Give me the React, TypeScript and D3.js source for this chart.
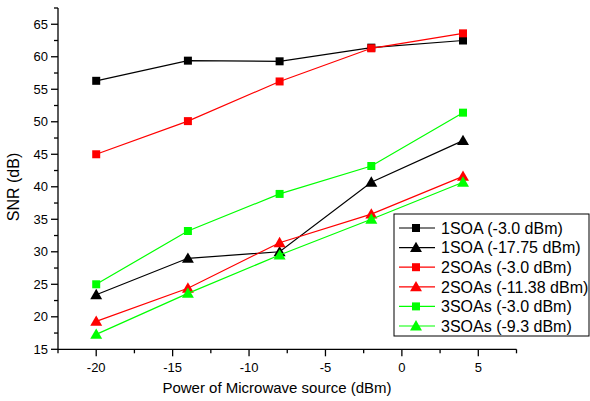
import React, { useEffect, useRef } from 'react';
import * as d3 from 'd3';

const xValues = [-20, -14, -8, -2, 4];
const soa1High = [56.3, 59.4, 59.3, 61.4, 62.5];
const soa1Low = [23.4, 29.0, 30.0, 40.7, 47.1];
const soa2High = [45.0, 50.1, 56.2, 61.3, 63.6];
const soa2Low = [19.3, 24.4, 31.4, 35.8, 41.6];
const soa3High = [25.0, 33.2, 38.9, 43.2, 51.4];
const soa3Low = [17.3, 23.6, 29.5, 35.0, 40.7];
const seriesNames = [
  '1SOA (-3.0 dBm)',
  '1SOA (-17.75 dBm)',
  '2SOAs (-3.0 dBm)',
  '2SOAs (-11.38 dBm)',
  '3SOAs (-3.0 dBm)',
  '3SOAs (-9.3 dBm)',
];
const xTicks = [-20, -15, -10, -5, 0, 5];
const yTicks = [15, 20, 25, 30, 35, 40, 45, 50, 55, 60, 65];

const App = () => {
  const ref = useRef<SVGSVGElement>(null);

  useEffect(() => {
    const width = 590;
    const height = 401;
    const svg = d3.select(ref.current);
    svg.selectAll('*').remove();

    const left = 58;
    const right = 516.5;
    const top = 8;
    const bottom = 349.3;

    const x = d3.scaleLinear().domain([-22.5, 7.5]).range([left, right]);
    const y = d3.scaleLinear().domain([15, 67.5]).range([bottom, top]);

    const font = 'Liberation Sans, Arial, sans-serif';

    const series = [
      { name: seriesNames[0], values: soa1High, color: '#000000', marker: 'square' },
      { name: seriesNames[1], values: soa1Low, color: '#000000', marker: 'triangle' },
      { name: seriesNames[2], values: soa2High, color: '#ff0000', marker: 'square' },
      { name: seriesNames[3], values: soa2Low, color: '#ff0000', marker: 'triangle' },
      { name: seriesNames[4], values: soa3High, color: '#00ff00', marker: 'square' },
      { name: seriesNames[5], values: soa3Low, color: '#00ff00', marker: 'triangle' },
    ];

    const sq = d3.symbol().type(d3.symbolSquare).size(64);
    const tri = d3.symbol().type(d3.symbolTriangle).size(62);

    const line = d3.line<number>()
      .x((d, i) => x(xValues[i]))
      .y(d => y(d));

    series.forEach(s => {
      svg.append('path')
        .attr('d', line(s.values))
        .attr('fill', 'none')
        .attr('stroke', s.color)
        .attr('stroke-width', 1.2);
      svg.selectAll(null)
        .data(s.values)
        .join('path')
          .attr('transform', (d, i) => `translate(${x(xValues[i])},${y(d) + (s.marker === 'triangle' ? 1 : 0)})`)
          .attr('d', s.marker === 'square' ? sq() : tri())
          .attr('fill', s.color);
    });

    // x axis
    const xAxis = svg.append('g').attr('transform', `translate(0,${bottom})`);
    xAxis.append('line').attr('x1', left).attr('x2', right).attr('stroke', '#000').attr('stroke-width', 1.3);
    d3.range(-22.5, 7.6, 2.5).forEach(v => {
      const major = xTicks.includes(v);
      xAxis.append('line')
        .attr('x1', x(v)).attr('x2', x(v))
        .attr('y1', 0).attr('y2', major ? 7 : 4)
        .attr('stroke', '#000').attr('stroke-width', 1.3);
    });
    xTicks.forEach(v => {
      xAxis.append('text')
        .attr('x', x(v)).attr('y', 22.5)
        .attr('text-anchor', 'middle')
        .attr('font-family', font).attr('font-size', 13)
        .text(v);
    });

    // y axis
    const yAxis = svg.append('g').attr('transform', `translate(${left},0)`);
    yAxis.append('line').attr('y1', top).attr('y2', bottom).attr('stroke', '#000').attr('stroke-width', 1.3);
    d3.range(15, 67.6, 2.5).forEach(v => {
      const major = yTicks.includes(v);
      yAxis.append('line')
        .attr('y1', y(v)).attr('y2', y(v))
        .attr('x1', 0).attr('x2', major ? -7 : -4)
        .attr('stroke', '#000').attr('stroke-width', 1.3);
    });
    yTicks.forEach(v => {
      yAxis.append('text')
        .attr('x', -10).attr('y', y(v)).attr('dy', '0.35em')
        .attr('text-anchor', 'end')
        .attr('font-family', font).attr('font-size', 13)
        .text(v);
    });

    svg.append('text')
      .attr('transform', `translate(19,187) rotate(-90)`)
      .attr('text-anchor', 'middle')
      .attr('font-family', font).attr('font-size', 16)
      .text('SNR (dB)');

    svg.append('text')
      .attr('x', 277).attr('y', 393)
      .attr('text-anchor', 'middle')
      .attr('font-family', font).attr('font-size', 15)
      .text('Power of Microwave source (dBm)');

    // legend
    const lg = svg.append('g').attr('transform', 'translate(394,214)');
    lg.append('rect')
      .attr('width', 195).attr('height', 122)
      .attr('fill', '#fff').attr('stroke', '#000').attr('stroke-width', 1);
    series.forEach((s, i) => {
      const cy = 14 + i * 19.6;
      lg.append('line')
        .attr('x1', 5).attr('x2', 41).attr('y1', cy).attr('y2', cy)
        .attr('stroke', s.color).attr('stroke-width', 1.2);
      lg.append('path')
        .attr('transform', `translate(22,${cy + (s.marker === 'triangle' ? 1 : 0)})`)
        .attr('d', s.marker === 'square' ? sq() : tri())
        .attr('fill', s.color);
      lg.append('text')
        .attr('x', 47).attr('y', cy).attr('dy', '0.36em')
        .attr('font-family', font).attr('font-size', 16)
        .text(s.name);
    });

    svg.attr('width', width).attr('height', height);
  }, []);

  return (
    <svg ref={ref} width={590} height={401}
      style={{ position: 'absolute', left: 0, top: 0, background: '#fff' }} />
  );
};

export default App;
